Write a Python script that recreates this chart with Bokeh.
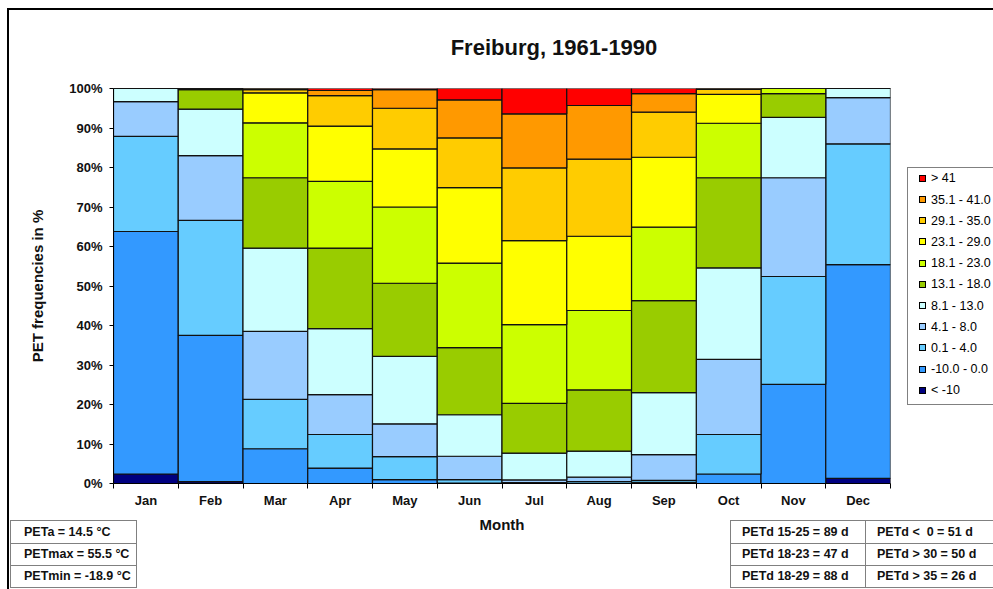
import html
from bokeh.plotting import figure
from bokeh.models import (ColumnDataSource, FixedTicker, Range1d, PrintfTickFormatter,
                          GridBox, Div)
from bokeh.embed import file_html
from bokeh.resources import INLINE

months = ["Jan", "Feb", "Mar", "Apr", "May", "Jun", "Jul", "Aug", "Sep", "Oct", "Nov", "Dec"]

# PET class frequencies (%) per month, bottom class first
lt_m10 = [2.4, 0.5, 0, 0, 0, 0, 0, 0, 0, 0, 0, 1.3]
m10_0 = [61.4, 37.0, 8.8, 3.9, 1.0, 0.1, 0.0, 0.0, 0.3, 2.4, 25.1, 54.1]
c0_4 = [24.1, 29.1, 12.5, 8.5, 5.8, 0.9, 0.2, 0.5, 0.5, 10.0, 27.3, 30.6]
c4_8 = [8.8, 16.4, 17.2, 10.1, 8.3, 5.9, 0.7, 1.1, 6.5, 19.0, 25.0, 11.7]
c8_13 = [3.3, 11.8, 21.1, 16.7, 17.1, 10.5, 6.8, 6.6, 15.7, 23.2, 15.3, 2.3]
c13_18 = [0, 4.9, 17.8, 20.4, 18.5, 17.0, 12.6, 15.5, 23.3, 22.8, 6.0, 0]
c18_23 = [0, 0.3, 13.9, 16.9, 19.3, 21.4, 19.9, 20.1, 18.6, 13.8, 1.3, 0]
c23_29 = [0, 0, 7.6, 14.0, 14.7, 19.1, 21.3, 18.8, 17.7, 7.3, 0, 0]
c29_35 = [0, 0, 0.8, 7.7, 10.3, 12.6, 18.4, 19.5, 11.4, 1.3, 0, 0]
c35_41 = [0, 0, 0.3, 1.3, 4.7, 9.6, 13.7, 13.6, 4.7, 0.2, 0, 0]
gt41 = [0, 0, 0, 0.5, 0.3, 2.9, 6.4, 4.3, 1.3, 0, 0, 0]

class_labels = ["< -10", "-10.0 - 0.0", "0.1 - 4.0", "4.1 - 8.0", "8.1 - 13.0", "13.1 - 18.0",
                "18.1 - 23.0", "23.1 - 29.0", "29.1 - 35.0", "35.1 - 41.0", "> 41"]
class_colors = ["#000080", "#3399FF", "#66CCFF", "#99CCFF", "#CCFFFF", "#99CC00",
                "#CCFF00", "#FFFF00", "#FFCC00", "#FF9900", "#FF0000"]
series = [lt_m10, m10_0, c0_4, c4_8, c8_13, c13_18, c18_23, c23_29, c29_35, c35_41, gt41]

title_text = "Freiburg, 1961-1990"
left_table = ["PETa = 14.5 °C", "PETmax = 55.5 °C", "PETmin = -18.9 °C"]
right_table_c1 = ["PETd 15-25 = 89 d", "PETd 18-23 = 47 d", "PETd 18-29 = 88 d"]
right_table_c2 = ["PETd <\u00a0\u00a00 = 51 d", "PETd > 30 = 50 d", "PETd > 35 = 26 d"]

FONT = "Liberation Sans"
W, H = 993, 589

# ---------------- main chart ----------------
keys = [f"s{i}" for i in range(len(series))]
data = {"x": [i + 0.5 for i in range(len(months))]}
for k, s in zip(keys, series):
    data[k] = s
src = ColumnDataSource(data)

p = figure(frame_width=777, frame_height=395, output_backend="svg", toolbar_location=None,
           x_range=Range1d(0, 12), y_range=Range1d(0, 100),
           min_border_left=113, min_border_right=103, min_border_top=88, min_border_bottom=106)
p.background_fill_color = "white"
p.border_fill_color = "white"
p.outline_line_color = None
p.xgrid.visible = False
p.ygrid.visible = False

rs = p.vbar_stack(keys, x="x", width=1.0, source=src, fill_color=class_colors,
                  line_color="#111111", line_width=1.2)

xa = p.xaxis[0]
xa.ticker = FixedTicker(ticks=[i + 0.5 for i in range(12)], minor_ticks=list(range(13)))
xa.major_label_overrides = {i + 0.5: m for i, m in enumerate(months)}
xa.major_tick_out = 0
xa.major_tick_in = 0
xa.minor_tick_out = 5
xa.minor_tick_in = 0
xa.minor_tick_line_color = "#000000"
xa.axis_line_color = "#000000"
xa.major_label_standoff = 4
xa.major_label_text_font = FONT
xa.major_label_text_font_size = "13px"
xa.major_label_text_font_style = "bold"
xa.major_label_text_color = "#111111"
xa.axis_label = "Month"
xa.axis_label_text_font = FONT
xa.axis_label_text_font_size = "15px"
xa.axis_label_text_font_style = "bold"
xa.axis_label_text_color = "#111111"
xa.axis_label_standoff = 5

ya = p.yaxis[0]
ya.ticker = FixedTicker(ticks=list(range(0, 101, 10)), minor_ticks=[])
ya.formatter = PrintfTickFormatter(format="%d%%")
ya.major_tick_out = 4
ya.major_tick_in = 0
ya.major_tick_line_color = "#000000"
ya.axis_line_color = "#000000"
ya.major_label_standoff = 7
ya.major_label_text_font = FONT
ya.major_label_text_font_size = "13px"
ya.major_label_text_font_style = "bold"
ya.major_label_text_color = "#111111"
ya.axis_label = "PET frequencies in %"
ya.axis_label_text_font = FONT
ya.axis_label_text_font_size = "15px"
ya.axis_label_text_font_style = "bold"
ya.axis_label_text_color = "#111111"
ya.axis_label_standoff = 20

# ---------------- transparent overlay: title, legend, chart-area frame, stat tables ----------------
FS = "font-family:'Liberation Sans',Arial,sans-serif;color:#111111;"
parts = [f'<div style="position:relative;width:{W}px;height:{H}px;overflow:hidden;{FS}">']
parts.append(f'<div style="position:absolute;left:554px;top:35px;transform:translateX(-50%);'
             f'white-space:nowrap;font-size:22px;font-weight:bold;line-height:26px;">'
             f'{html.escape(title_text)}</div>')
parts.append(f'<div style="position:absolute;left:7px;top:8px;width:{W - 7}px;height:{H - 8}px;'
             f'box-sizing:border-box;border-left:2px solid #000;border-top:2px solid #000;"></div>')

# legend box (right edge runs past the window, as in the original)
parts.append('<div style="position:absolute;left:907px;top:167px;width:120px;height:238px;'
             'box-sizing:border-box;background:#fff;border:1px solid #808080;"></div>')
for i, (lab, col) in enumerate(list(zip(class_labels, class_colors))[::-1]):
    yc = 178.3 + 21.2 * i
    parts.append(f'<div style="position:absolute;left:919px;top:{yc - 3.5:.1f}px;width:7px;height:7px;'
                 f'box-sizing:border-box;border:1px solid #000;background:{col};"></div>')
    parts.append(f'<div style="position:absolute;left:931px;top:{yc - 8:.1f}px;font-size:12.5px;'
                 f'line-height:16px;white-space:nowrap;color:#000;">{html.escape(lab)}</div>')

row_tops = [520, 543, 565]
row_h = [24, 23, 23]
cols = [(10, 127, 13, left_table, True), (730, 136, 11, right_table_c1, True),
        (865, W - 865, 11, right_table_c2, False)]
for (left, width, pad, texts, right_border) in cols:
    for i in range(3):
        rb = "1px solid #808080" if right_border else "none"
        parts.append(
            f'<div style="position:absolute;left:{left}px;top:{row_tops[i]}px;width:{width}px;'
            f'height:{row_h[i]}px;box-sizing:border-box;background:#fff;'
            f'border:1px solid #808080;border-right:{rb};padding-left:{pad}px;'
            f'font-size:12.5px;font-weight:bold;line-height:{row_h[i] - 2}px;white-space:nowrap;">'
            f'{html.escape(texts[i])}</div>')
parts.append('</div>')
overlay = Div(text="".join(parts), width=W, height=H, margin=0)

layout = GridBox(children=[(p, 0, 0), (overlay, 0, 0)])

open("out.html", "w").write(file_html(layout, INLINE))
